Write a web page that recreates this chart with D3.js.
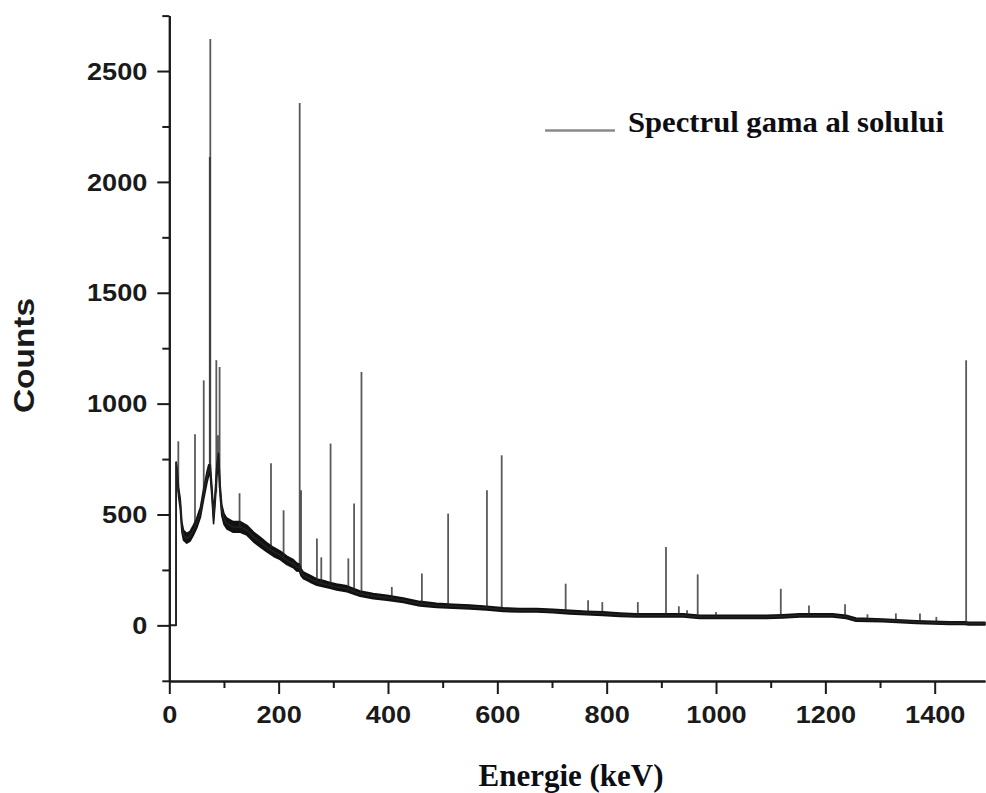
<!DOCTYPE html>
<html><head><meta charset="utf-8">
<script src="https://cdn.jsdelivr.net/npm/d3@7"></script>
<style>body{margin:0;background:#fff}svg{display:block}</style>
</head><body>
<svg id="chart" width="986" height="793"></svg>
<script>
// ---- data ----
const contEnergy = [0,12.3,12.5,14,17,20,23,26,32,38,44,50,57,63,69,72,75,78,81,84,87,90,93,96,100,105,117,130,142,154,166,178,191,203,215,227,233,238,241,245,257,270,282,294,306,325,349,373,398,428,458,489,519,550,580,611,641,672,702,732,763,793,824,854,885,915,940,970,1031,1092,1122,1153,1213,1238,1256,1305,1366,1427,1454,1463,1492];
const contCounts = [0,0,737,700,600,550,444,406,393,402,429,460,511,595,669,700,700,600,483,579,700,750,609,519,480,460,444,444,429,399,376,353,331,316,293,278,263,260,240,226,211,195,188,180,173,165,143,132,125,113,98,90,86,83,78,71,68,68,65,60,56,53,48,45,45,45,45,38,38,38,41,45,45,38,26,23,15,10,10,8,8];
// half-width of the noise band around the continuum (counts)
const contSpread = [0,0,0,10,20,22,22,22,22,22,22,22,22,24,24,24,24,24,24,24,26,26,24,24,24,24,24,24,22,22,22,20,20,19,19,18,18,16,16,15,15,14,14,13,13,13,12,12,11,10,10,9,9,9,8,8,8,8,8,8,8,8,8,7,7,7,7,7,7,7,7,7,7,7,7,6,6,6,6,6,6];

const peakEnergy = [16.5,47,63,74,75,86,89,92,128.5,186,209,238.5,241,270,278,295,327.5,338,351.5,407,462,510,581,608,725,766,792,857,908.5,932,947,966.5,1000,1118.5,1150,1170,1236,1277,1329,1373,1403,1457.5];
const peakBase = [600,440,595,700,700,600,700,620,444,350,305,262,245,195,190,180,163,158,142,120,97,88,78,71,61,56,53,45,45,45,45,42,38,40,45,45,40,25,20,15,12,10];
const peakTop = [830,862,1105,2112,2644,1196,857,1165,596,731,519,2356,609,392,307,820,302,550,1143,173,234,504,609,767,188,113,105,105,353,86,68,230,60,165,54,90,95,50,54,54,38,1196];

const xMajor = [0,200,400,600,800,1000,1200,1400];
const xMinor = [100,300,500,700,900,1100,1300];
const yMajor = [0,500,1000,1500,2000,2500];
const yMinor = [-250,250,750,1250,1750,2250,2750];

const xTitle = "Energie (keV)";
const yTitle = "Counts";
const legendText = "Spectrul gama al solului";

// ---- drawing ----
const svg = d3.select("#chart");
const x = d3.scaleLinear().domain([0,1492]).range([169.3,985]);
const y = d3.scaleLinear().domain([-250,2750]).range([680.8,15.6]);
const ink = "#1a1a1a";

const cont = contEnergy.map((e,i)=>({e, c:contCounts[i], s:contSpread[i]}));
// noise band
svg.append("path")
  .datum(cont)
  .attr("d", d3.area().x(d=>x(d.e)).y0(d=>y(d.c-d.s)).y1(d=>y(d.c+d.s)))
  .attr("fill","#111").attr("stroke","#111").attr("stroke-width",1.6)
  .attr("stroke-linejoin","round");
// continuum trace
svg.append("path")
  .datum(cont)
  .attr("d", d3.line().x(d=>x(d.e)).y(d=>y(d.c)))
  .attr("fill","none").attr("stroke","#222").attr("stroke-width",1.5);

// peaks
svg.append("g").selectAll("line")
  .data(peakEnergy.map((e,i)=>({e, b:peakBase[i], t:peakTop[i]})))
  .join("line")
  .attr("x1",d=>x(d.e)).attr("x2",d=>x(d.e))
  .attr("y1",d=>y(d.b)).attr("y2",d=>y(d.t))
  .attr("stroke","#222").attr("stroke-opacity",0.75).attr("stroke-width",1.8);

// axes
function styleAxis(g){
  g.selectAll("path,line").attr("stroke",ink).attr("stroke-width",2);
  g.selectAll("text").attr("fill",ink)
    .style("font-family","'Liberation Sans', Arial, sans-serif")
    .style("font-weight","bold").style("font-size","24px");
}
const fmt = d3.format("d");
const yAxisMinor = svg.append("g").attr("transform","translate(169.3,0)")
  .call(d3.axisLeft(y).tickValues(yMinor).tickSize(7).tickSizeOuter(0).tickFormat(""));
const yAxis = svg.append("g").attr("transform","translate(169.3,0)")
  .call(d3.axisLeft(y).tickValues(yMajor).tickSize(12).tickSizeOuter(0).tickPadding(10).tickFormat(fmt));
const xAxisMinor = svg.append("g").attr("transform","translate(0,681)")
  .call(d3.axisBottom(x).tickValues(xMinor).tickSize(7).tickSizeOuter(0).tickFormat(""));
const xAxis = svg.append("g").attr("transform","translate(0,681)")
  .call(d3.axisBottom(x).tickValues(xMajor).tickSize(13).tickSizeOuter(0).tickPadding(12).tickFormat(fmt));
[yAxisMinor,yAxis,xAxisMinor,xAxis].forEach(styleAxis);
yAxis.selectAll("text").attr("dy","0.34em");
[yAxis,xAxis].forEach(g=>g.selectAll("text").each(function(){
  const w = this.getComputedTextLength();
  d3.select(this).attr("textLength", w*1.13).attr("lengthAdjust","spacingAndGlyphs");
}));

// axis titles
svg.append("text").text(yTitle)
  .attr("transform","translate(33.5,355.5) rotate(-90)")
  .attr("text-anchor","middle")
  .attr("textLength",115).attr("lengthAdjust","spacingAndGlyphs")
  .style("font-family","'Liberation Sans', Arial, sans-serif")
  .style("font-weight","bold").style("font-size","29px").attr("fill",ink);

svg.append("text").text(xTitle)
  .attr("x",571).attr("y",786).attr("text-anchor","middle")
  .attr("textLength",185).attr("lengthAdjust","spacingAndGlyphs")
  .style("font-family","'Liberation Serif', 'Times New Roman', serif")
  .style("font-weight","bold").style("font-size","31px").attr("fill","#0d0d14");

// legend
svg.append("line").attr("x1",545).attr("x2",615).attr("y1",130.5).attr("y2",130.5)
  .attr("stroke","#8a8a8a").attr("stroke-width",2.5);
svg.append("text").text(legendText)
  .attr("x",628).attr("y",131.5)
  .attr("textLength",316).attr("lengthAdjust","spacingAndGlyphs")
  .style("font-family","'Liberation Serif', 'Times New Roman', serif")
  .style("font-weight","bold").style("font-size","30px").attr("fill","#0d0d14");
</script>
</body></html>
